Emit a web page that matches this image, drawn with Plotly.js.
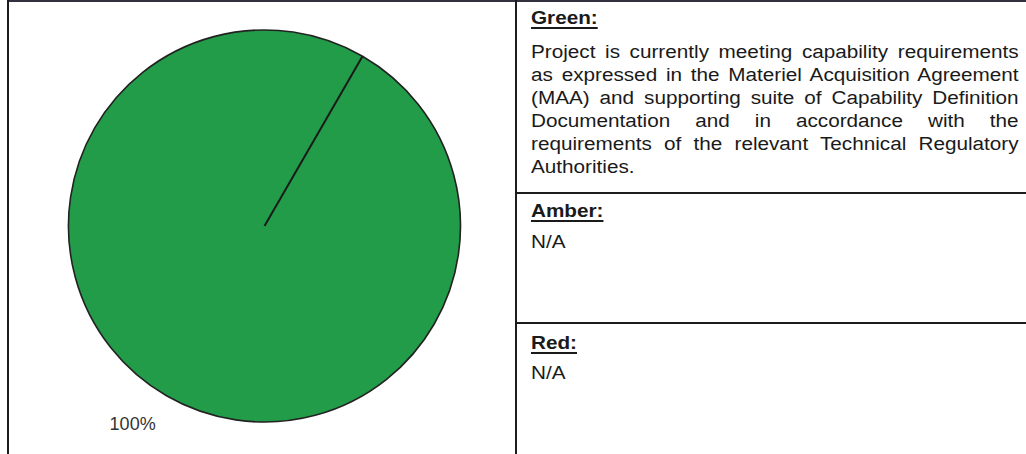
<!DOCTYPE html>
<html>
<head>
<meta charset="utf-8">
<script src="https://cdn.plot.ly/plotly-3.0.1.min.js"></script>
<style>
  html, body { margin: 0; padding: 0; background: #ffffff; }
  #wrap { position: relative; width: 1026px; height: 454px; overflow: hidden; }
  #chart { position: absolute; left: 0; top: 0; width: 1026px; height: 454px; }
  .rule { position: absolute; background: #1c1c1c; }
  .txt { position: absolute; left: 531px; width: 424px; transform: scaleX(1.15); transform-origin: left top;
         font-family: "Liberation Sans", Arial, sans-serif; font-size: 18px; line-height: 23px; color: #1a1a1a; }
  .head { font-weight: bold; text-decoration: underline; text-decoration-thickness: 2px; text-underline-offset: 3px; }
  .jl { text-align: justify; text-align-last: justify; white-space: nowrap; }
  .ll { text-align: left; white-space: nowrap; }
</style>
</head>
<body>
<div id="wrap">
  <div id="chart"></div>
</div>
<script>
// ---- data ----
var sliceLabels = ['Green'];
var sliceValues = [100];
var sliceColors = ['#229c48'];
var startAngle = 30;          // degrees clockwise from 12 o'clock

var statusHeadings = ['Green:', 'Amber:', 'Red:'];
var greenLines = [
  'Project is currently meeting capability requirements',
  'as expressed in the Materiel Acquisition Agreement',
  '(MAA) and supporting suite of Capability Definition',
  'Documentation and in accordance with the',
  'requirements of the relevant Technical Regulatory',
  'Authorities.'
];
var amberLines = ['N/A'];
var redLines = ['N/A'];

// ---- pie ----
var W = 1026, H = 454;
var cx = 264.5, cy = 226, R = 196;
var dom = { x: [(cx - R) / W, (cx + R) / W], y: [(H - cy - R) / H, (H - cy + R) / H] };

var trace = {
  type: 'pie',
  labels: sliceLabels,
  values: sliceValues,
  marker: { colors: sliceColors, line: { color: '#222222', width: 1.6 } },
  rotation: startAngle,
  direction: 'clockwise',
  sort: false,
  texttemplate: '\u00a0<br>%{percent}',
  textposition: 'outside',
  outsidetextfont: { family: '"Liberation Sans", Arial, sans-serif', size: 18, color: '#333333' },
  domain: dom,
  hoverinfo: 'label+percent',
  showlegend: false
};

// radial edge where the slice starts (computed from the pie's own domain and rotation)
var pcx = (dom.x[0] + dom.x[1]) / 2, pcy = (dom.y[0] + dom.y[1]) / 2;
var rPx = Math.min((dom.x[1] - dom.x[0]) * W, (dom.y[1] - dom.y[0]) * H) / 2;
var th = startAngle * Math.PI / 180;
var shapes = [{
  type: 'line', xref: 'paper', yref: 'paper',
  x0: pcx, y0: pcy,
  x1: pcx + rPx * Math.sin(th) / W, y1: pcy + rPx * Math.cos(th) / H,
  line: { color: '#1a1a1a', width: 2 }
}];

var layout = {
  width: W, height: H,
  margin: { l: 0, r: 0, t: 0, b: 0 },
  paper_bgcolor: '#ffffff',
  shapes: shapes,
  showlegend: false
};

Plotly.newPlot('chart', [trace], layout, { displayModeBar: false, staticPlot: true });

// ---- table frame and status text ----
var wrap = document.getElementById('wrap');
function rule(l, t, w, h, c) {
  var d = document.createElement('div');
  d.className = 'rule';
  d.style.left = l + 'px'; d.style.top = t + 'px';
  d.style.width = w + 'px'; d.style.height = h + 'px';
  if (c) d.style.background = c;
  wrap.appendChild(d);
}
rule(7, 0, 1019, 2, '#34303f');
rule(7, 0, 2, 454);
rule(515, 0, 2, 454);
rule(515, 192, 511, 2);
rule(515, 322, 511, 2);

function block(top, heading, lines, gap) {
  var d = document.createElement('div');
  d.className = 'txt';
  d.style.top = top + 'px';
  var h = document.createElement('div');
  h.innerHTML = '<span class="head">' + heading + '</span>';
  h.style.marginBottom = gap + 'px';
  d.appendChild(h);
  lines.forEach(function (s, i) {
    var l = document.createElement('div');
    l.className = (i < lines.length - 1) ? 'jl' : 'll';
    l.textContent = s;
    d.appendChild(l);
  });
  wrap.appendChild(d);
}
block(7, statusHeadings[0], greenLines, 10.5);
block(199.5, statusHeadings[1], amberLines, 8);
block(332, statusHeadings[2], redLines, 7);
</script>
</body>
</html>
